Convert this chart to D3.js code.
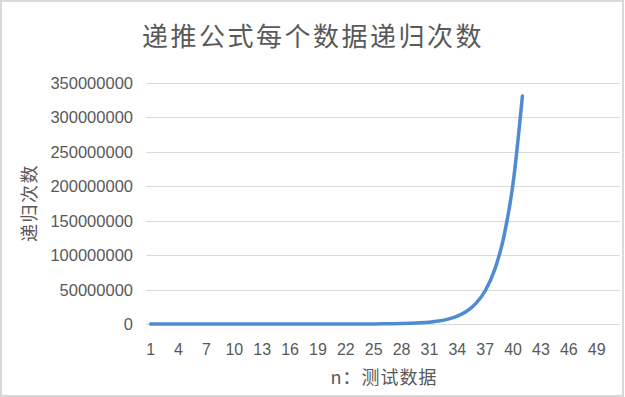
<!DOCTYPE html>
<html>
<head>
<meta charset="utf-8">
<script src="https://cdn.jsdelivr.net/npm/d3@7"></script>
<style>
  body { margin: 0; background: #fff; }
  text { font-family: "Liberation Sans", "Noto Sans CJK SC", sans-serif; fill: #595959; }
  .cjk { font-family: "Noto Sans CJK SC", sans-serif; }
</style>
</head>
<body>
<svg id="vis-svg"></svg>
<script>
// n values on the category axis (1..51), only 1..41 have data
const nValues = d3.range(1, 52);
const calls = [1, 1, 3, 5, 9, 15, 25, 41, 67, 109, 177, 287, 465, 753, 1219, 1973,
    3193, 5167, 8361, 13529, 21891, 35421, 57313, 92735, 150049, 242785, 392835,
    635621, 1028457, 1664079, 2692537, 4356617, 7049155, 11405773, 18454929,
    29860703, 48315633, 78176337, 126491971, 204668309, 331160281];
const yTicks = [0, 50000000, 100000000, 150000000, 200000000, 250000000, 300000000, 350000000];
const xTickLabels = [1, 4, 7, 10, 13, 16, 19, 22, 25, 28, 31, 34, 37, 40, 43, 46, 49];
const titleText = "递推公式每个数据递归次数",
    xLabelText = "n：测试数据",
    yLabelText = "递归次数";

const W = 625, H = 397;
const margin = { top: 83, right: 5, bottom: 73, left: 146 },
    width = 620 - margin.left,
    height = 324 - margin.top;

const svg = d3.select("#vis-svg")
    .attr("width", W)
    .attr("height", H);

// chart border
svg.append("rect")
    .attr("x", 1).attr("y", 1)
    .attr("width", 622).attr("height", 395)
    .attr("fill", "#fff")
    .attr("stroke", "#d9d9d9")
    .attr("stroke-width", 2);

const g = svg.append("g")
    .attr("transform", "translate(" + margin.left + "," + margin.top + ")");

const x = d3.scaleBand().domain(nValues).range([0, width]),
    y = d3.scaleLinear().domain([0, 350000000]).range([height, 0]);

// gridlines
g.selectAll(".grid")
    .data(yTicks)
    .enter().append("line")
    .attr("x1", 0).attr("x2", width)
    .attr("y1", d => Math.round(y(d)) + 0.5)
    .attr("y2", d => Math.round(y(d)) + 0.5)
    .attr("stroke", "#d9d9d9")
    .attr("stroke-width", 1);

// y tick labels
g.selectAll(".ylab")
    .data(yTicks)
    .enter().append("text")
    .attr("x", -13)
    .attr("y", d => y(d))
    .attr("dy", "0.36em")
    .attr("text-anchor", "end")
    .style("font-size", "16.5px")
    .text(d => d);

// x tick labels
g.selectAll(".xlab")
    .data(xTickLabels)
    .enter().append("text")
    .attr("x", d => x(d) + x.bandwidth() / 2)
    .attr("y", height + 31)
    .attr("text-anchor", "middle")
    .style("font-size", "16px")
    .text(d => d);

// line
const line = d3.line()
    .x((d, i) => x(nValues[i]) + x.bandwidth() / 2)
    .y(d => y(d))
    .curve(d3.curveMonotoneX);

g.append("path")
    .datum(calls)
    .attr("d", line)
    .attr("fill", "none")
    .attr("stroke", "#4e8bd2")
    .attr("stroke-width", 3.5)
    .attr("stroke-linecap", "round")
    .attr("stroke-linejoin", "round");

// title
svg.append("text")
    .attr("class", "cjk")
    .attr("x", 313)
    .attr("y", 46)
    .attr("text-anchor", "middle")
    .style("font-size", "26px")
    .style("letter-spacing", "2.5px")
    .text(titleText);

// x axis label
svg.append("text")
    .attr("class", "cjk")
    .attr("x", 384)
    .attr("y", 384)
    .attr("text-anchor", "middle")
    .style("font-size", "18px")
    .style("letter-spacing", "1px")
    .text(xLabelText);

// y axis label
svg.append("text")
    .attr("class", "cjk")
    .attr("transform", "translate(36,203) rotate(-90)")
    .attr("text-anchor", "middle")
    .style("font-size", "18px")
    .style("letter-spacing", "1.5px")
    .text(yLabelText);
</script>
</body>
</html>
